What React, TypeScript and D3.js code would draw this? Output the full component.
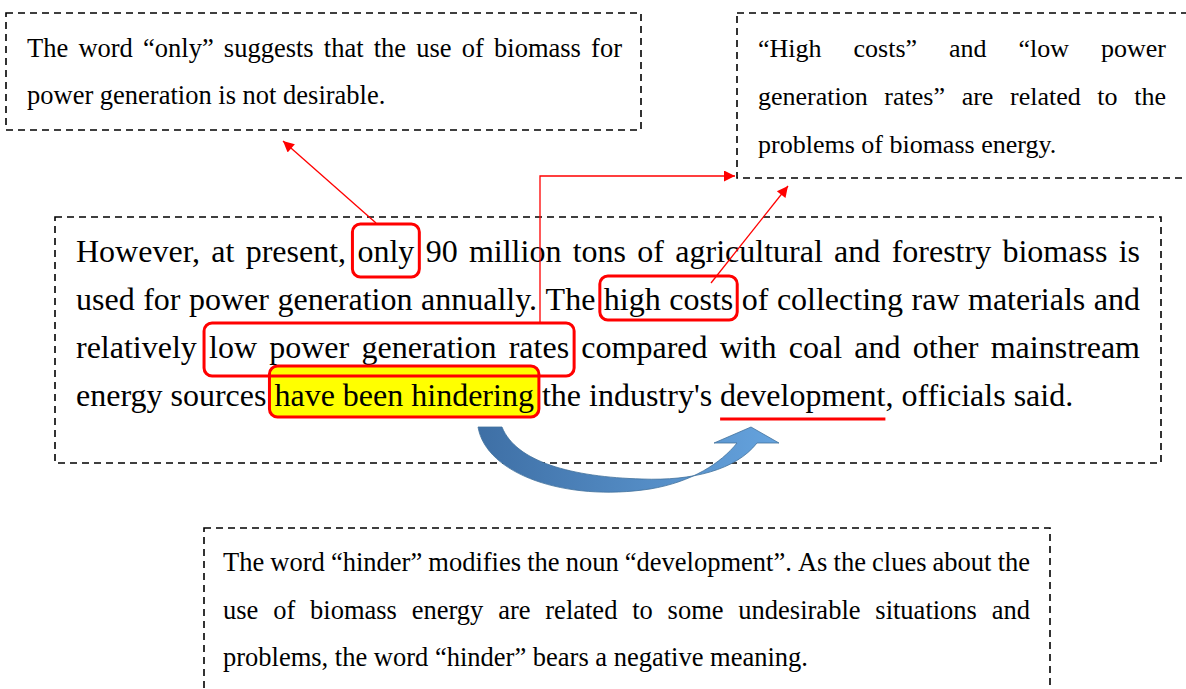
import React, { useMemo } from "react";
import * as d3 from "d3";

const W = 1186;
const H = 689;
const FONT = '"Liberation Serif", "Times New Roman", serif';

// ---- text content ----
const MAIN_LINES = [
  "However, at present, only 90 million tons of agricultural and forestry biomass is",
  "used for power generation annually. The high costs of collecting raw materials and",
  "relatively low power generation rates compared with coal and other mainstream",
  "energy sources have been hindering the industry's development, officials said.",
];
const NOTE_ONLY_LINES = [
  "The word \u201conly\u201d suggests that the use of biomass for",
  "power generation is not desirable.",
];
const NOTE_COSTS_LINES = [
  "\u201cHigh costs\u201d and \u201clow power",
  "generation rates\u201d are related to the",
  "problems of biomass energy.",
];
const NOTE_HINDER_LINES = [
  "The word \u201chinder\u201d modifies the noun \u201cdevelopment\u201d. As the clues about the",
  "use of biomass energy are related to some undesirable situations and",
  "problems, the word \u201chinder\u201d bears a negative meaning.",
];

// highlighted phrases in main text: line index, first word, last word
const HIGHLIGHTS = [
  { line: 0, from: 3, to: 3, padT: 38, padB: 15, padX: 5, fill: "none" },
  { line: 1, from: 6, to: 7, padT: 34, padB: 10, padX: 4, fill: "none" },
  { line: 2, from: 1, to: 4, padT: 35, padB: 18, padX: 5, fill: "none" },
  { line: 3, from: 2, to: 4, padT: 40, padB: 11, padX: 5, fill: "#ffff00" },
];
const UNDERLINE = { line: 3, word: 7 };

// ---- layout (boxes & text blocks) ----
const BOXES = [
  { x: 6, y: 13, w: 635, h: 117 },
  { x: 737, y: 13, w: 470, h: 165 },
  { x: 55, y: 217, w: 1106, h: 246 },
  { x: 204, y: 528, w: 846, h: 200 },
];

type Block = { lines: string[]; fs: number; x0: number; x1: number; base: number[]; justifyLast?: boolean };
const MAIN_BLOCK: Block = { lines: MAIN_LINES, fs: 32, x0: 76, x1: 1140, base: [262, 310, 358, 406] };
const BLOCKS: Block[] = [
  { lines: NOTE_ONLY_LINES, fs: 26.5, x0: 27, x1: 622, base: [57, 104] },
  { lines: NOTE_COSTS_LINES, fs: 26, x0: 758, x1: 1166, base: [57, 105, 153] },
  { lines: NOTE_HINDER_LINES, fs: 26.5, x0: 223, x1: 1030, base: [571, 619, 666] },
];

// red connectors [points]
const CONNECTORS: [number, number][][] = [
  [[376, 223], [283, 141]],
  [[540, 323], [540, 176], [735, 176]],
  [[711, 283], [788, 186]],
];

let ctx: CanvasRenderingContext2D | null = null;
function measure(t: string, fs: number) {
  if (!ctx) ctx = document.createElement("canvas").getContext("2d");
  ctx!.font = `${fs}px ${FONT}`;
  return ctx!.measureText(t).width;
}

type Word = { text: string; x: number; w: number; y: number };
function layoutBlock(b: Block): Word[][] {
  return b.lines.map((line, i) => {
    const words = line.split(" ");
    const widths = words.map((w) => measure(w, b.fs));
    const total = d3.sum(widths);
    const last = i === b.lines.length - 1 && !b.justifyLast;
    const gap = last ? measure(" ", b.fs) : (b.x1 - b.x0 - total) / (words.length - 1);
    let x = b.x0;
    return words.map((t, k) => {
      const wd = { text: t, x, w: widths[k], y: b.base[i] };
      x += widths[k] + gap;
      return wd;
    });
  });
}

function BlockText({ rows, fs }: { rows: Word[][]; fs: number }) {
  return (
    <g fontFamily={FONT} fontSize={fs} fill="#000">
      {rows.flat().map((w, i) => (
        <text key={i} x={w.x} y={w.y}>
          {w.text}
        </text>
      ))}
    </g>
  );
}

export default function App() {
  const mainRows = useMemo(() => layoutBlock(MAIN_BLOCK), []);
  const blockRows = useMemo(() => BLOCKS.map(layoutBlock), []);
  const line = d3.line<[number, number]>();

  const hl = HIGHLIGHTS.map((h) => {
    const row = mainRows[h.line];
    const a = row[h.from];
    const b = row[h.to];
    return {
      x: a.x - h.padX,
      y: a.y - h.padT,
      w: b.x + b.w - a.x + 2 * h.padX,
      h: h.padT + h.padB,
      fill: h.fill,
    };
  });
  const uw = mainRows[UNDERLINE.line][UNDERLINE.word];
  const uText = uw.text.replace(/[,.]$/, "");
  const uWidth = measure(uText, MAIN_BLOCK.fs);

  const bluePath =
    "M 478 427 C 486 474, 565 502, 650 489 C 692 482, 721 463, 737 443 " +
    "L 714 443 L 751 427 L 779 443 L 757 443 " +
    "C 736 470, 692 481, 642 479 C 572 477, 516 462, 502 427 Z";

  return (
    <svg
      width={W}
      height={H}
      style={{ position: "absolute", left: 0, top: 0, background: "#fff" }}
    >
      <defs>
        <marker
          id="ah"
          viewBox="0 0 10 10"
          refX="10"
          refY="5"
          markerWidth="14"
          markerHeight="11"
          markerUnits="userSpaceOnUse"
          orient="auto"
        >
          <path d="M0,0 L10,5 L0,10 Z" fill="#ff0000" />
        </marker>
        <linearGradient id="bg" x1="0" y1="0" x2="1" y2="0">
          <stop offset="0" stopColor="#3e6fa5" />
          <stop offset="1" stopColor="#65a3de" />
        </linearGradient>
      </defs>
      <rect width={W} height={H} fill="#fff" />

      {BOXES.map((b, i) => (
        <rect
          key={i}
          x={b.x}
          y={b.y}
          width={b.w}
          height={b.h}
          fill="none"
          stroke="#000"
          strokeWidth={1.6}
          strokeDasharray="7 5"
        />
      ))}

      {hl.filter((r) => r.fill !== "none").map((r, i) => (
        <rect key={"f" + i} x={r.x} y={r.y} width={r.w} height={r.h} rx={8} fill={r.fill} />
      ))}

      <BlockText rows={mainRows} fs={MAIN_BLOCK.fs} />
      {blockRows.map((rows, i) => (
        <BlockText key={i} rows={rows} fs={BLOCKS[i].fs} />
      ))}

      {hl.map((r, i) => (
        <rect
          key={"s" + i}
          x={r.x}
          y={r.y}
          width={r.w}
          height={r.h}
          rx={8}
          fill="none"
          stroke="#ff0000"
          strokeWidth={3}
        />
      ))}

      <line
        x1={uw.x}
        x2={uw.x + uWidth}
        y1={uw.y + 13}
        y2={uw.y + 13}
        stroke="#ff0000"
        strokeWidth={3}
      />

      {CONNECTORS.map((pts, i) => (
        <path
          key={i}
          d={line(pts) || ""}
          fill="none"
          stroke="#ff0000"
          strokeWidth={1.3}
          markerEnd="url(#ah)"
        />
      ))}

      <path d={bluePath} fill="url(#bg)" stroke="#41719c" strokeWidth={0.8} />
    </svg>
  );
}
